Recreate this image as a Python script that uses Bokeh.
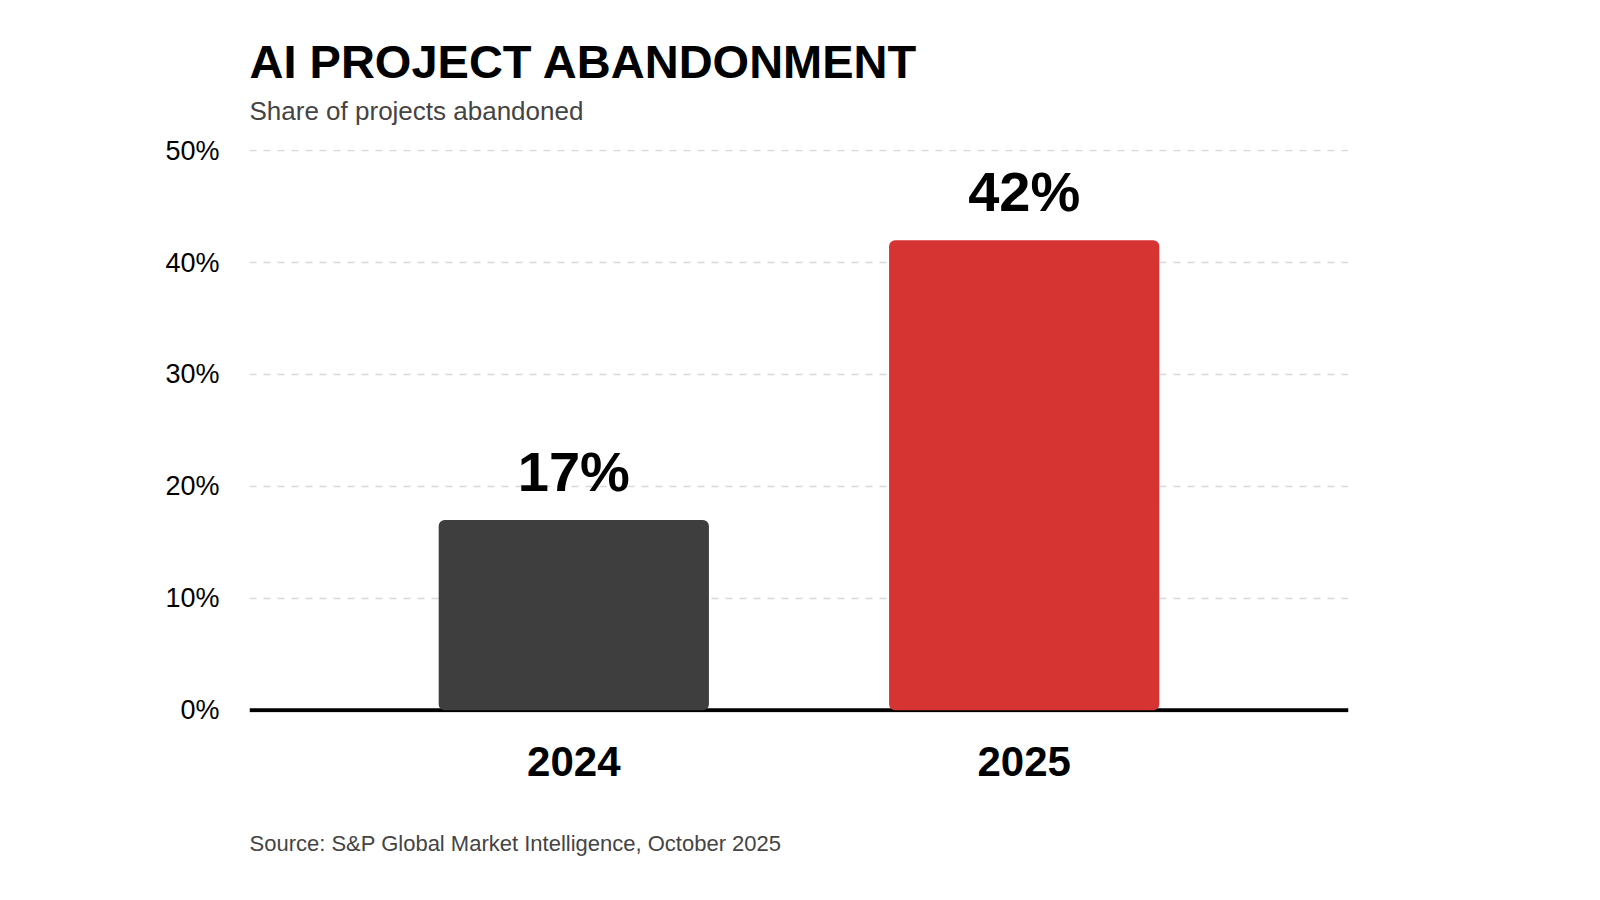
from bokeh.plotting import figure
from bokeh.models import Range1d, FixedTicker, Title, Span, ColumnDataSource, LabelSet
from bokeh.core.properties import value
from bokeh.embed import file_html
from bokeh.resources import INLINE

title_text = "AI PROJECT ABANDONMENT"
subtitle_text = "Share of projects abandoned"
source_text = "Source: S&P Global Market Intelligence, October 2025"

years = ["2024", "2025"]
shares = [17, 42]
bar_colors = ["#3e3e3e", "#d63333"]
y_ticks = [0, 10, 20, 30, 40, 50]
y_tick_labels = ["0%", "10%", "20%", "30%", "40%", "50%"]

FONT = "Liberation Sans"

xs = list(range(len(years)))
src = ColumnDataSource(dict(
    x=xs, top=shares, color=bar_colors,
    label=[f"{v}%" for v in shares],
))

p = figure(
    frame_width=1099, frame_height=563,
    x_range=Range1d(-0.72, len(years) - 1 + 0.72),
    y_range=Range1d(-0.2, 50.1),
    output_backend="svg", toolbar_location=None,
    min_border_left=249, min_border_right=236,
    min_border_top=149, min_border_bottom=165,
    background_fill_color="white", border_fill_color="white",
)
p.outline_line_color = None

# baseline under the bars
p.add_layout(Span(location=0, dimension="width", line_color="black",
                  line_width=4, level="underlay"))

p.vbar(x="x", top="top", bottom=0, width=0.6, color="color",
       line_color=None, border_radius=6, source=src)

p.add_layout(LabelSet(x="x", y="top", text="label", source=src,
                      text_align="center", text_baseline="alphabetic",
                      y_offset=29, text_font=value(FONT), text_font_size="56px",
                      text_font_style="bold", text_color="black"))

# grid
p.xgrid.grid_line_color = None
p.ygrid.ticker = FixedTicker(ticks=y_ticks[1:])
p.ygrid.grid_line_color = "#d9d9d9"
p.ygrid.grid_line_width = 1.5
p.ygrid.grid_line_dash = "7 7"

# y axis
p.yaxis.ticker = FixedTicker(ticks=y_ticks)
p.yaxis.major_label_overrides = {t: l for t, l in zip(y_ticks, y_tick_labels)}
p.yaxis.axis_line_color = None
p.yaxis.major_tick_line_color = None
p.yaxis.minor_tick_line_color = None
p.yaxis.major_label_text_font = FONT
p.yaxis.major_label_text_font_size = "27px"
p.yaxis.major_label_text_color = "black"
p.yaxis.major_label_standoff = 24

# x axis
p.xaxis.ticker = FixedTicker(ticks=xs)
p.xaxis.major_label_overrides = {i: y for i, y in zip(xs, years)}
p.xaxis.axis_line_color = None
p.xaxis.major_tick_line_color = None
p.xaxis.minor_tick_line_color = None
p.xaxis.major_label_text_font = FONT
p.xaxis.major_label_text_font_size = "42px"
p.xaxis.major_label_text_font_style = "bold"
p.xaxis.major_label_text_color = "black"
p.xaxis.major_label_standoff = 28

# titles
p.add_layout(Title(text=subtitle_text, align="left",
                   text_font=FONT, text_font_size="26px",
                   text_font_style="normal", text_color="#444444",
                   standoff=47), "above")
p.add_layout(Title(text=title_text, align="left",
                   text_font=FONT, text_font_size="47px",
                   text_font_style="bold", text_color="black",
                   standoff=-34), "above")
p.add_layout(Title(text=source_text,
                   align="left", text_font=FONT, text_font_size="22px",
                   text_font_style="normal", text_color="#444444",
                   standoff=101), "below")

open("out.html", "w").write(file_html(p, INLINE))
